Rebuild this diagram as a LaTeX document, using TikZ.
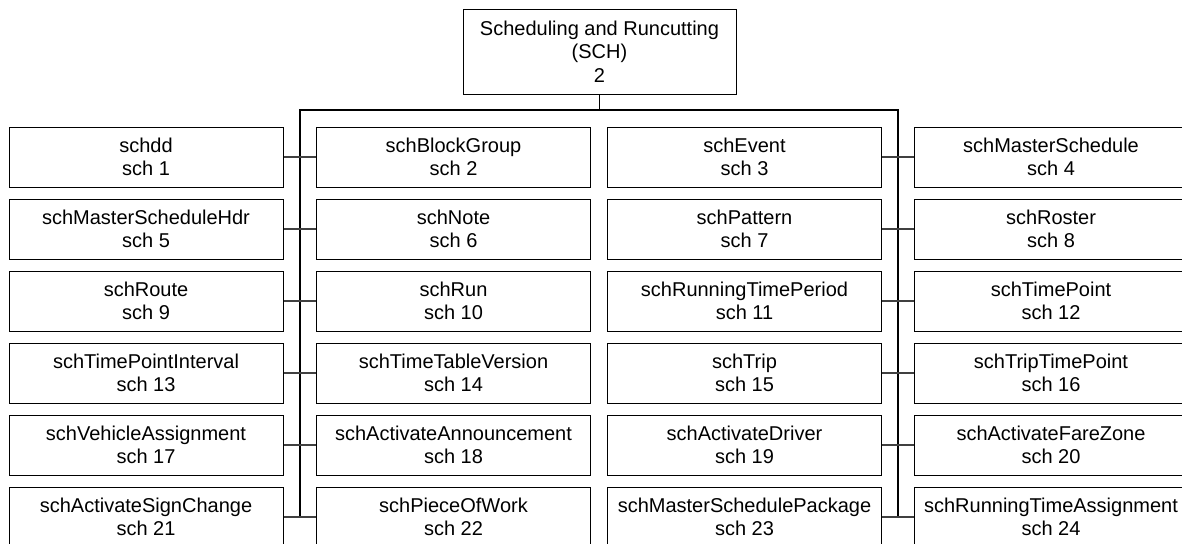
\documentclass[tikz,border=0pt]{standalone}
\usepackage{fontspec}
\setmainfont{Liberation Sans}
\usetikzlibrary{positioning}

\begin{document}
\begin{tikzpicture}[x=0.5pt,y=-0.5pt,node distance=36pt,
    font=\fontsize{10}{11.75}\selectfont,
    tablebox/.style={draw, line width=0.5pt, align=center, inner sep=0pt, minimum width=137pt, minimum height=30pt},
    groupbox/.style={draw, line width=0.5pt, align=center, inner sep=0pt, minimum width=136.5pt, minimum height=42.5pt},
    bus/.style={draw, line width=0.8pt},
    link/.style={draw=black!75, line width=0.6pt}]
    \clip (0,0) rectangle (1182,543);

    % Modulo
    \node [groupbox] (sch) at (599.5,51.5) {Scheduling and Runcutting\\(SCH)\\2};

    % Tabelas, primeira linha
    \node [tablebox] (sch1) at (146,157) {schdd\\sch 1};
    \node [tablebox] (sch2) at (453.5,157) {schBlockGroup\\sch 2};
    \node [tablebox] (sch3) at (744.5,157) {schEvent\\sch 3};
    \node [tablebox] (sch4) at (1051,157) {schMasterSchedule\\sch 4};

    \node [tablebox, below of=sch1] (sch5) {schMasterScheduleHdr\\sch 5};
    \node [tablebox, below of=sch2] (sch6) {schNote\\sch 6};
    \node [tablebox, below of=sch3] (sch7) {schPattern\\sch 7};
    \node [tablebox, below of=sch4] (sch8) {schRoster\\sch 8};

    \node [tablebox, below of=sch5] (sch9) {schRoute\\sch 9};
    \node [tablebox, below of=sch6] (sch10) {schRun\\sch 10};
    \node [tablebox, below of=sch7] (sch11) {schRunningTimePeriod\\sch 11};
    \node [tablebox, below of=sch8] (sch12) {schTimePoint\\sch 12};

    \node [tablebox, below of=sch9] (sch13) {schTimePointInterval\\sch 13};
    \node [tablebox, below of=sch10] (sch14) {schTimeTableVersion\\sch 14};
    \node [tablebox, below of=sch11] (sch15) {schTrip\\sch 15};
    \node [tablebox, below of=sch12] (sch16) {schTripTimePoint\\sch 16};

    \node [tablebox, below of=sch13] (sch17) {schVehicleAssignment\\sch 17};
    \node [tablebox, below of=sch14] (sch18) {schActivateAnnouncement\\sch 18};
    \node [tablebox, below of=sch15] (sch19) {schActivateDriver\\sch 19};
    \node [tablebox, below of=sch16] (sch20) {schActivateFareZone\\sch 20};

    \node [tablebox, below of=sch17] (sch21) {schActivateSignChange\\sch 21};
    \node [tablebox, below of=sch18] (sch22) {schPieceOfWork\\sch 22};
    \node [tablebox, below of=sch19] (sch23) {schMasterSchedulePackage\\sch 23};
    \node [tablebox, below of=sch20] (sch24) {schRunningTimeAssignment\\sch 24};

    \coordinate (busL) at (300,110);
    \coordinate (busR) at (898,110);

    % Barramento
    \path [bus] (sch.south) -- (sch.south |- busL);
    \path [bus] (busL |- sch21.east) -- (busL) -- (busR) -- (busR |- sch24.west);

    % Ligacoes
    \path [link] (sch1.east) -- (sch2.west);
    \path [link] (sch5.east) -- (sch6.west);
    \path [link] (sch9.east) -- (sch10.west);
    \path [link] (sch13.east) -- (sch14.west);
    \path [link] (sch17.east) -- (sch18.west);
    \path [link] (sch21.east) -- (sch22.west);
    \path [link] (sch3.east) -- (sch4.west);
    \path [link] (sch7.east) -- (sch8.west);
    \path [link] (sch11.east) -- (sch12.west);
    \path [link] (sch15.east) -- (sch16.west);
    \path [link] (sch19.east) -- (sch20.west);
    \path [link] (sch23.east) -- (sch24.west);
\end{tikzpicture}
\end{document}
